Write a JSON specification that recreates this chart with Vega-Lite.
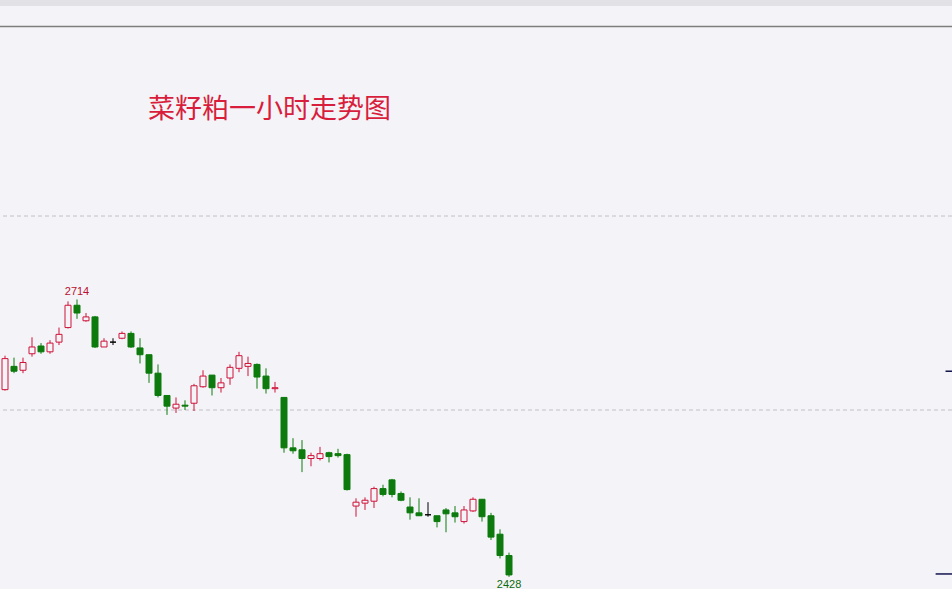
{
  "$schema": "https://vega.github.io/schema/vega-lite/v6.json",
  "width": 952,
  "height": 583,
  "autosize": {"type": "none"},
  "padding": {"top": 6, "left": 0, "right": 0, "bottom": 0},
  "background": "#e2e1e6",
  "config": {"view": {"stroke": null, "fill": "#f4f4f8"}},
  "datasets": {
    "k": [
      {"i": 1, "open": 2621, "high": 2656, "low": 2620, "close": 2653},
      {"i": 2, "open": 2645, "high": 2654, "low": 2638, "close": 2640},
      {"i": 3, "open": 2641, "high": 2654, "low": 2638, "close": 2649},
      {"i": 4, "open": 2658, "high": 2675, "low": 2655, "close": 2665},
      {"i": 5, "open": 2666, "high": 2669, "low": 2658, "close": 2660},
      {"i": 6, "open": 2660, "high": 2672, "low": 2658, "close": 2669},
      {"i": 7, "open": 2670, "high": 2685, "low": 2667, "close": 2678},
      {"i": 8, "open": 2685, "high": 2712, "low": 2684, "close": 2708},
      {"i": 9, "open": 2708, "high": 2714, "low": 2694, "close": 2700},
      {"i": 10, "open": 2692, "high": 2700, "low": 2691, "close": 2696},
      {"i": 11, "open": 2696, "high": 2697, "low": 2664, "close": 2665},
      {"i": 12, "open": 2665, "high": 2674, "low": 2665, "close": 2671},
      {"i": 13, "open": 2670, "high": 2674, "low": 2667, "close": 2670},
      {"i": 14, "open": 2674, "high": 2681, "low": 2673, "close": 2679},
      {"i": 15, "open": 2679, "high": 2681, "low": 2664, "close": 2665},
      {"i": 16, "open": 2664, "high": 2674, "low": 2648, "close": 2657},
      {"i": 17, "open": 2657, "high": 2657, "low": 2628, "close": 2638},
      {"i": 18, "open": 2638, "high": 2647, "low": 2613, "close": 2615},
      {"i": 19, "open": 2615, "high": 2615, "low": 2595, "close": 2604},
      {"i": 20, "open": 2602, "high": 2613, "low": 2597, "close": 2606},
      {"i": 21, "open": 2605, "high": 2610, "low": 2600, "close": 2604},
      {"i": 22, "open": 2607, "high": 2627, "low": 2599, "close": 2625},
      {"i": 23, "open": 2624, "high": 2641, "low": 2623, "close": 2635},
      {"i": 24, "open": 2636, "high": 2636, "low": 2615, "close": 2623},
      {"i": 25, "open": 2623, "high": 2633, "low": 2618, "close": 2628},
      {"i": 26, "open": 2633, "high": 2647, "low": 2626, "close": 2644},
      {"i": 27, "open": 2643, "high": 2660, "low": 2639, "close": 2656},
      {"i": 28, "open": 2645, "high": 2655, "low": 2635, "close": 2648},
      {"i": 29, "open": 2647, "high": 2648, "low": 2622, "close": 2634},
      {"i": 30, "open": 2635, "high": 2643, "low": 2617, "close": 2622},
      {"i": 31, "open": 2622, "high": 2629, "low": 2618, "close": 2623},
      {"i": 32, "open": 2613, "high": 2613, "low": 2556, "close": 2561},
      {"i": 33, "open": 2561, "high": 2571, "low": 2555, "close": 2558},
      {"i": 34, "open": 2559, "high": 2569, "low": 2536, "close": 2550},
      {"i": 35, "open": 2550, "high": 2556, "low": 2542, "close": 2553},
      {"i": 36, "open": 2550, "high": 2562, "low": 2548, "close": 2555},
      {"i": 37, "open": 2556, "high": 2557, "low": 2546, "close": 2552},
      {"i": 38, "open": 2555, "high": 2560, "low": 2551, "close": 2553},
      {"i": 39, "open": 2554, "high": 2555, "low": 2517, "close": 2518},
      {"i": 40, "open": 2501, "high": 2509, "low": 2490, "close": 2505},
      {"i": 41, "open": 2504, "high": 2510, "low": 2497, "close": 2507},
      {"i": 42, "open": 2506, "high": 2521, "low": 2499, "close": 2519},
      {"i": 43, "open": 2519, "high": 2523, "low": 2511, "close": 2513},
      {"i": 44, "open": 2528, "high": 2529, "low": 2510, "close": 2513},
      {"i": 45, "open": 2514, "high": 2516, "low": 2506, "close": 2507},
      {"i": 46, "open": 2500, "high": 2510, "low": 2487, "close": 2494},
      {"i": 47, "open": 2494, "high": 2509, "low": 2491, "close": 2491},
      {"i": 48, "open": 2492, "high": 2505, "low": 2490, "close": 2492},
      {"i": 49, "open": 2491, "high": 2491, "low": 2479, "close": 2485},
      {"i": 50, "open": 2497, "high": 2499, "low": 2474, "close": 2493},
      {"i": 51, "open": 2494, "high": 2501, "low": 2484, "close": 2490},
      {"i": 52, "open": 2485, "high": 2501, "low": 2483, "close": 2497},
      {"i": 53, "open": 2496, "high": 2510, "low": 2495, "close": 2508},
      {"i": 54, "open": 2508, "high": 2508, "low": 2485, "close": 2490},
      {"i": 55, "open": 2491, "high": 2494, "low": 2466, "close": 2469},
      {"i": 56, "open": 2472, "high": 2477, "low": 2447, "close": 2450},
      {"i": 57, "open": 2450, "high": 2453, "low": 2428, "close": 2430}
    ],
    "notes": [
      {"text": "菜籽粕一小时走势图", "i": 16.89, "price": 2909}
    ],
    "frame": [
      {"level": 2995.4}
    ],
    "grid": [
      {"level": 2600},
      {"level": 2800}
    ],
    "markers": [
      {"level": 2640, "from": 105.5, "to": 106.22},
      {"level": 2431, "from": 104.4, "to": 106.22}
    ]
  },
  "encoding": {
    "x": {"type": "quantitative", "scale": {"domain": [0.444, 106.22], "nice": false, "zero": false, "padding": 0}, "axis": null},
    "y": {"type": "quantitative", "scale": {"domain": [2415.5, 3016.5], "nice": false, "zero": false, "padding": 0}, "axis": null}
  },
  "layer": [
    {
      "data": {"name": "grid"},
      "mark": {"type": "rule", "stroke": "#c2c2c6", "strokeWidth": 1, "strokeDash": [4, 3]},
      "encoding": {
        "y": {"field": "level", "type": "quantitative"}
      }
    },
    {
      "data": {"name": "frame"},
      "mark": {"type": "rule", "stroke": "#7d7d7d", "strokeWidth": 1.5},
      "encoding": {
        "y": {"field": "level", "type": "quantitative"}
      }
    },
    {
      "data": {"name": "k"},
      "mark": {"type": "rule", "strokeWidth": 1},
      "encoding": {
        "x": {"field": "i", "type": "quantitative"},
        "y": {"field": "low", "type": "quantitative"},
        "y2": {"field": "high"},
        "stroke": {
          "condition": [
            {"test": "datum.close > datum.open", "value": "#cf1239"},
            {"test": "datum.close < datum.open", "value": "#0c7a0c"}
          ],
          "value": "#000000"
        }
      }
    },
    {
      "data": {"name": "k"},
      "mark": {"type": "bar", "width": 6, "strokeWidth": 1},
      "encoding": {
        "x": {"field": "i", "type": "quantitative"},
        "y": {"field": "open", "type": "quantitative"},
        "y2": {"field": "close"},
        "fill": {
          "condition": [
            {"test": "datum.close > datum.open", "value": "#f4f4f8"},
            {"test": "datum.close < datum.open", "value": "#0c7a0c"}
          ],
          "value": "#000000"
        },
        "stroke": {
          "condition": [
            {"test": "datum.close > datum.open", "value": "#cf1239"},
            {"test": "datum.close < datum.open", "value": "#0c7a0c"}
          ],
          "value": "#000000"
        }
      }
    },
    {
      "data": {"name": "k"},
      "transform": [{"filter": "datum.i == 9"}],
      "mark": {"type": "text", "baseline": "alphabetic", "align": "center", "dy": -4, "fontSize": 11, "font": "Liberation Sans", "color": "#b8102e"},
      "encoding": {
        "x": {"field": "i", "type": "quantitative"},
        "y": {"field": "high", "type": "quantitative"},
        "text": {"field": "high", "type": "quantitative", "format": "d"}
      }
    },
    {
      "data": {"name": "k"},
      "transform": [{"filter": "datum.i == 57"}],
      "mark": {"type": "text", "baseline": "top", "align": "center", "dy": 2, "fontSize": 11, "font": "Liberation Sans", "color": "#0c6a0c"},
      "encoding": {
        "x": {"field": "i", "type": "quantitative"},
        "y": {"field": "low", "type": "quantitative"},
        "text": {"field": "low", "type": "quantitative", "format": "d"}
      }
    },
    {
      "data": {"name": "notes"},
      "mark": {"type": "text", "align": "left", "baseline": "middle", "fontSize": 27, "font": "Noto Sans CJK SC", "color": "#d81e3c"},
      "encoding": {
        "x": {"field": "i", "type": "quantitative"},
        "y": {"field": "price", "type": "quantitative"},
        "text": {"field": "text"}
      }
    },
    {
      "data": {"name": "markers"},
      "mark": {"type": "rule", "stroke": "#14144f", "strokeWidth": 1.5},
      "encoding": {
        "x": {"field": "from", "type": "quantitative"},
        "x2": {"field": "to"},
        "y": {"field": "level", "type": "quantitative"}
      }
    }
  ]
}
